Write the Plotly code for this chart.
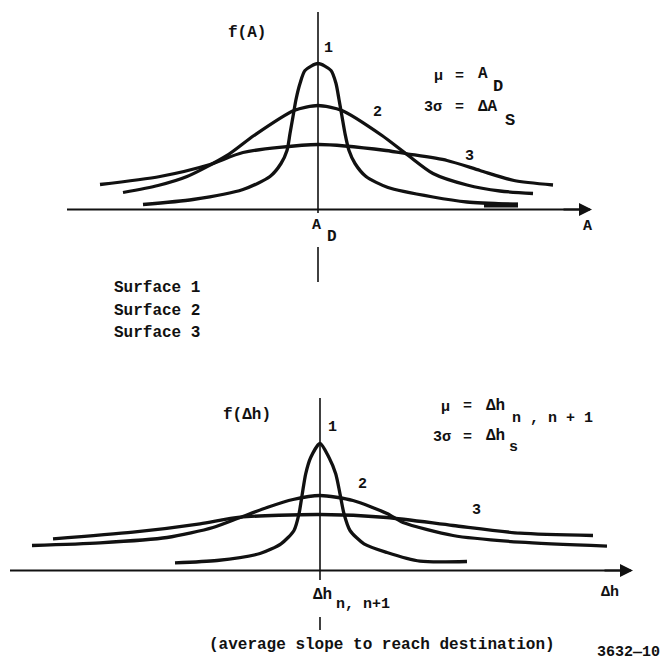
import plotly.graph_objects as go

W, H = 669, 662

# ---------------- data (offset from mean, density height) ----------------
# Top panel: f(A)
top_c1_x = [-175, -125, -75, -48, -37, -31, -28, -25, -22, -18, -13, 0, 13, 18, 21, 24, 27, 31, 37, 48, 70, 115, 149, 200]
top_c1_y = [5, 10, 20, 33, 46, 59, 76, 93, 110, 126, 139, 146, 139, 126, 110, 93, 76, 59, 46, 33, 22, 12.5, 7.5, 5]
top_c1_tail_x = [166, 200]          # heavy ink at the right end of curve 1
top_c1_tail_y = [4.5, 4.5]
top_c2_x = [-195, -160, -131, -91, -64, -24, 0, 24, 64, 89, 115, 149, 182, 215]
top_c2_y = [17, 24, 33, 54, 74, 99, 104, 99, 74, 55, 36, 24.5, 18.5, 16]
top_c3_x = [-218, -158, -108, -75, 0, 68, 89, 129, 162, 196, 235]
top_c3_y = [25, 33, 45, 57, 65, 59, 55.7, 49, 39, 29, 24.5]

# Bottom panel: f(Δh)
bot_c1_x = [-145, -103, -60, -39, -26, -21, -17.7, -14.3, -9.3, 0, 9, 15.7, 20, 24, 30, 44, 67, 100, 147]
bot_c1_y = [7.7, 10, 17, 26.7, 40, 56.7, 76.7, 96.7, 113, 127, 113, 96.7, 76.7, 56.7, 40, 26.7, 18, 9.3, 9]
bot_c2_x = [-288, -220, -153, -107, -80, -53, -27, 0, 33, 67, 83, 133, 200, 287]
bot_c2_y = [25, 27.7, 33, 43, 53, 63, 71, 75, 70, 57, 48, 35, 28.3, 24.3]
bot_c3_x = [-267, -187, -120, -80, 0, 67, 133, 200, 273]
bot_c3_y = [31.7, 38.3, 46.7, 53.3, 56, 53, 45, 37.3, 35]

curve_numbers = ["1", "2", "3"]
surface_labels = ["Surface 1", "Surface 2", "Surface 3"]
# ---------------------------------------------------------------------------

FONT = "Liberation Mono"
INK = "#111111"
LW = 3.3

fig = go.Figure()

def add_curve(xs, ys, xa, ya, w=LW):
    fig.add_trace(go.Scatter(x=xs, y=ys, mode="lines", xaxis=xa, yaxis=ya,
                             line=dict(color=INK, width=w, shape="spline", smoothing=0.7),
                             hoverinfo="skip"))

add_curve(top_c1_x, top_c1_y, "x", "y")
add_curve(top_c1_tail_x, top_c1_tail_y, "x", "y", w=5)
add_curve(top_c2_x, top_c2_y, "x", "y")
add_curve(top_c3_x, top_c3_y, "x", "y")
add_curve(bot_c1_x, bot_c1_y, "x2", "y2")
add_curve(bot_c2_x, bot_c2_y, "x2", "y2")
add_curve(bot_c3_x, bot_c3_y, "x2", "y2")

# panel layout: top panel occupies pixel rows 0..300, bottom 300..662
split = 300
top_base, bot_base = 209.5, 570.5
top_cx, bot_cx = 318, 320

fig.update_layout(
    width=W, height=H, margin=dict(l=0, r=0, t=0, b=0),
    paper_bgcolor="white", plot_bgcolor="white", showlegend=False,
    xaxis=dict(domain=[0, 1], range=[-top_cx, W - top_cx], visible=False, fixedrange=True),
    yaxis=dict(domain=[1 - split / H, 1], range=[top_base - split, top_base], visible=False, fixedrange=True),
    xaxis2=dict(domain=[0, 1], range=[-bot_cx, W - bot_cx], visible=False, anchor="y2", fixedrange=True),
    yaxis2=dict(domain=[0, 1 - split / H], range=[bot_base - H, bot_base - split], visible=False, anchor="x2", fixedrange=True),
)

def line(xref, yref, x0, y0, x1, y1, w):
    fig.add_shape(type="line", xref=xref, yref=yref, x0=x0, y0=y0, x1=x1, y1=y1,
                  line=dict(color=INK, width=w))

def arrow(xref, yref, xtip):
    fig.add_annotation(xref=xref, yref=yref, x=xtip, y=0, ax=xtip - 30, ay=0,
                       axref=xref, ayref=yref, text="", showarrow=True,
                       arrowhead=2, arrowsize=1.3, arrowwidth=2, arrowcolor=INK, standoff=0)

# top axes
line("x", "y", -251, 0, 272, 0, 2.2)
arrow("x", "y", 274)
line("x", "y", 0, -3.5, 0, 197.5, 1.6)
line("x", "y", 0, -37.5, 0, -72.5, 1.6)
# bottom axes
line("x2", "y2", -310, 0, 311, 0, 2.2)
arrow("x2", "y2", 313)
line("x2", "y2", 0, -9.5, 0, 172.5, 1.6)
line("x2", "y2", 0, -46.5, 0, -59.5, 1.6)

def txt(s, x, y, size=15, anchor="center", bold=True):
    fig.add_annotation(xref="paper", yref="paper", x=x / W, y=1 - y / H, text=(f"<b>{s}</b>" if bold else s),
                       showarrow=False, xanchor=anchor, yanchor="middle",
                       font=dict(family=FONT, size=size, color=INK))

# top panel texts
txt("f(A)", 247, 33, size=16)
txt(curve_numbers[0], 328, 48)
txt(curve_numbers[1], 377, 112)
txt(curve_numbers[2], 470, 157)
txt("μ", 438, 77)
txt("=", 460, 76)
txt("A", 483, 74, size=16)
txt("D", 498, 86, size=17)
txt("3σ", 433, 108)
txt("=", 460, 108)
txt("ΔA", 488, 107, size=16)
txt("S", 510, 120, size=17)
txt("A", 316, 225)
txt("D", 332, 237, size=16)
txt("A", 587, 227)
for i, s in enumerate(surface_labels):
    txt(s, 112, 288 + 22.5 * i, size=16, anchor="left")

# bottom panel texts
txt("f(Δh)", 247, 415, size=16)
txt(curve_numbers[0], 332, 427)
txt(curve_numbers[1], 362, 485)
txt(curve_numbers[2], 477, 510)
txt("μ", 445, 407)
txt("=", 467, 406)
txt("Δh", 495, 406, size=16)
txt("n , n + 1", 510, 418, anchor="left")
txt("3σ", 442, 437)
txt("=", 467, 437)
txt("Δh", 495, 436, size=16)
txt("s", 513, 447)
txt("Δh", 322, 595, size=16)
txt("n, n+1", 334, 604, anchor="left")
txt("Δh", 610, 592)
txt("(average slope to reach destination)", 382, 645, size=16)
txt("3632—10", 628, 652, size=15)

fig.write_html("out.html", config={"displayModeBar": False, "staticPlot": True})
with open("out.html", "r", encoding="utf-8") as f:
    html = f.read()
html = html.replace("<head>", "<head><style>html,body{margin:0;padding:0;overflow:hidden;}</style>", 1)
with open("out.html", "w", encoding="utf-8") as f:
    f.write(html)
